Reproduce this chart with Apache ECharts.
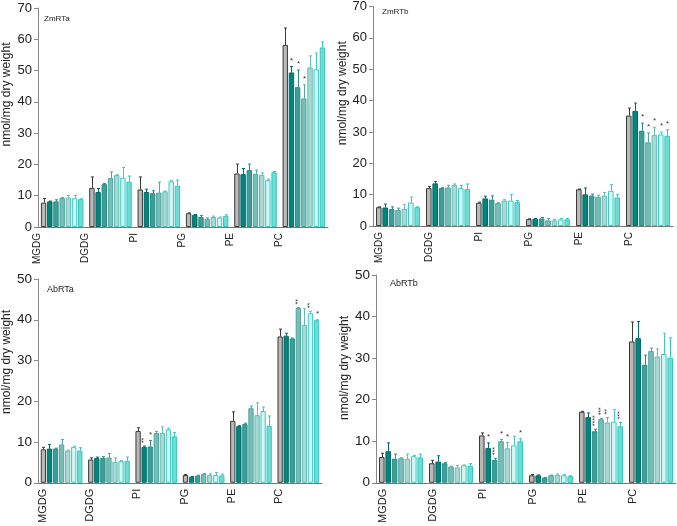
<!DOCTYPE html>
<html>
<head>
<meta charset="utf-8">
<script src="https://cdn.jsdelivr.net/npm/echarts@6/dist/echarts.min.js"></script>
<style>html,body{margin:0;padding:0;background:#fff}#c{width:677px;height:526px}</style>
</head>
<body>
<div id="c"></div>
<script>
const categories = ['MGDG', 'DGDG', 'PI', 'PG', 'PE', 'PC'];
const panelNames = ['ZmRTa', 'ZmRTb', 'AbRTa', 'AbRTb'];
const topTicks = [0, 10, 20, 30, 40, 50, 60, 70];
const bottomTicks = [0, 10, 20, 30, 40, 50];

// rows = 7 treatments, columns = categories
const zmRTaMean = [
  [7.8, 12.5, 12.0, 4.4, 17.1, 58.2],
  [8.2, 11.2, 11.2, 3.9, 16.9, 49.4],
  [8.2, 13.7, 10.8, 3.2, 18.2, 44.7],
  [9.3, 15.7, 11.0, 2.6, 17.0, 41.1],
  [9.4, 16.6, 11.4, 3.2, 16.7, 51.0],
  [9.2, 15.8, 14.6, 3.0, 15.0, 50.4],
  [8.9, 14.5, 13.2, 3.6, 17.5, 57.4]
];
const zmRTaErr = [
  [1.3, 3.5, 4.0, 0.1, 3.0, 5.4],
  [0.1, 1.1, 0.9, 0.1, 1.8, 1.9],
  [0.5, 0.2, 0.8, 0.5, 1.9, 5.5],
  [0.1, 1.9, 3.3, 0.3, 1.2, 4.3],
  [0.7, 0.1, 0.1, 0.3, 0.6, 3.7],
  [0.9, 3.2, 0.2, 0.2, 0.3, 5.2],
  [0.1, 1.8, 1.8, 0.3, 0.2, 1.7]
];
const zmRTaSig = [
  ['', '', '', '', '', ''],
  ['', '', '', '', '', '*'],
  ['', '', '', '', '', '*'],
  ['', '', '', '', '', '*'],
  ['', '', '', '', '', ''],
  ['', '', '', '', '', ''],
  ['', '', '', '', '', '']
];

const zmRTbMean = [
  [6.0, 12.1, 7.4, 2.2, 11.7, 35.2],
  [5.9, 13.6, 8.8, 2.3, 10.1, 36.7],
  [5.4, 12.1, 8.4, 2.4, 9.7, 30.4],
  [5.1, 12.3, 7.3, 1.8, 9.3, 26.7],
  [5.5, 13.1, 8.1, 1.8, 9.7, 29.0],
  [7.5, 12.1, 8.1, 2.1, 11.2, 29.2],
  [6.0, 11.8, 7.6, 2.1, 9.1, 28.8]
];
const zmRTbErr = [
  [0.1, 0.5, 0.2, 0.1, 0.1, 2.4],
  [1.1, 0.6, 0.7, 0.1, 2.0, 2.5],
  [0.7, 0.1, 1.2, 0.3, 0.5, 2.4],
  [0.6, 0.7, 0.1, 0.6, 0.5, 3.0],
  [1.4, 0.3, 0.3, 0.3, 1.0, 2.5],
  [1.7, 0.8, 1.9, 0.3, 2.0, 0.7],
  [0.1, 1.6, 0.5, 0.3, 0.9, 1.9]
];
const zmRTbSig = [
  ['', '', '', '', '', ''],
  ['', '', '', '', '', ''],
  ['', '', '', '', '', '*'],
  ['', '', '', '', '', '*'],
  ['', '', '', '', '', '*'],
  ['', '', '', '', '', '*'],
  ['', '', '', '', '', '*']
];

const abRTaMean = [
  [8.2, 5.7, 12.7, 1.9, 15.2, 35.9],
  [8.4, 6.1, 8.8, 1.5, 13.9, 36.1],
  [8.4, 6.1, 8.9, 1.75, 14.4, 35.4],
  [9.4, 6.2, 12.2, 2.2, 18.3, 42.9],
  [7.9, 5.1, 12.2, 1.9, 16.6, 38.7],
  [8.8, 5.3, 13.1, 1.9, 17.6, 41.6],
  [7.9, 5.4, 11.4, 1.8, 14.0, 39.9]
];
const abRTaErr = [
  [0.5, 0.4, 0.8, 0.1, 2.2, 1.8],
  [1.0, 0.2, 0.2, 0.05, 0.1, 0.6],
  [0.1, 0.3, 1.5, 0.1, 0.2, 0.1],
  [1.2, 1.0, 0.4, 0.1, 0.5, 0.1],
  [0.1, 1.0, 1.5, 0.3, 3.0, 4.0],
  [0.2, 0.1, 0.3, 0.6, 1.0, 0.5],
  [0.7, 0.9, 0.9, 0.3, 2.4, 0.1]
];
const abRTaSig = [
  ['', '', '', '', '', ''],
  ['', '', '**', '', '', ''],
  ['', '', '*', '', '', ''],
  ['', '', '', '', '', '**'],
  ['', '', '', '', '', ''],
  ['', '', '', '', '', '**'],
  ['', '', '', '', '', '*']
];

const abRTbMean = [
  [6.2, 4.7, 11.4, 1.8, 17.1, 34.0],
  [7.6, 5.1, 8.4, 1.8, 15.8, 34.8],
  [5.8, 4.7, 5.5, 1.25, 12.4, 28.4],
  [5.9, 3.9, 10.0, 1.8, 15.3, 31.7],
  [5.8, 3.7, 8.3, 1.9, 14.5, 30.4],
  [6.4, 4.2, 9.0, 1.8, 14.7, 31.0],
  [6.1, 4.1, 10.0, 1.6, 13.6, 30.1]
];
const abRTbErr = [
  [0.9, 0.7, 0.6, 0.2, 0.1, 4.7],
  [2.0, 1.4, 1.2, 0.1, 1.0, 4.0],
  [1.1, 0.2, 0.4, 0.05, 0.5, 2.3],
  [0.1, 0.1, 0.4, 0.05, 0.2, 0.7],
  [1.1, 0.5, 1.4, 0.2, 1.2, 1.8],
  [0.2, 0.1, 2.2, 0.2, 2.9, 5.0],
  [0.8, 0.5, 0.6, 0.1, 0.9, 4.8]
];
const abRTbSig = [
  ['', '', '', '', '', ''],
  ['', '', '*', '', '', ''],
  ['', '', '***', '', '****', ''],
  ['', '', '*', '', '***', ''],
  ['', '', '*', '', '**', ''],
  ['', '', '', '', '', ''],
  ['', '', '*', '', '***', '']
];

const fills = ['#b9b9b9', '#00857f', '#3b9f99', '#78bdb8', '#a9d9d4', '#d2f6f3', '#6edcd5'];
const borders = ['#3a3a3a', '#006b66', '#2b8a84', '#4fa6a0', '#66bab4', '#3fcac2', '#33c8bf'];

const panels = [
  {mean: zmRTaMean, err: zmRTaErr, sig: zmRTaSig, ticks: topTicks,
   grid: {left: 36, top: 8, width: 292, height: 219}, labelShift: 25, tickFont: 13, catFont: 10,
   nameShift: 46, nameGap: 25, titleFont: 8, title: {left: 39, top: 10}},
  {mean: zmRTbMean, err: zmRTbErr, sig: zmRTbSig, ticks: topTicks,
   grid: {left: 373, top: 5, width: 300, height: 221}, labelShift: 19, tickFont: 13, catFont: 10,
   nameShift: 46, nameGap: 19, titleFont: 8, title: {left: 377, top: 3}},
  {mean: abRTaMean, err: abRTaErr, sig: abRTaSig, ticks: bottomTicks,
   grid: {left: 35, top: 279, width: 287, height: 210}, labelShift: 19, tickFont: 13.5, catFont: 11,
   nameShift: 38, nameGap: 23, titleFont: 9, title: {left: 42, top: 280}},
  {mean: abRTbMean, err: abRTbErr, sig: abRTbSig, ticks: bottomTicks,
   grid: {left: 376, top: 275, width: 300, height: 214}, labelShift: 18, tickFont: 13.5, catFont: 11,
   nameShift: 22, nameGap: 20, titleFont: 9, title: {left: 385, top: 274}}
];

const CAT_GAP = 0.12, BAR_GAP = 0.15, N = 7;
const FONT = 'Liberation Sans, Arial, sans-serif';

const option = {
  animation: false,
  textStyle: {fontFamily: FONT},
  title: [], grid: [], xAxis: [], yAxis: [], series: []
};

panels.forEach((p, pi) => {
  option.grid.push(Object.assign({containLabel: false}, p.grid));
  option.title.push({text: panelNames[pi], left: p.title.left, top: p.title.top,
    textStyle: {fontSize: p.titleFont, fontWeight: 'normal', color: '#222', fontFamily: FONT}});
  option.xAxis.push({
    type: 'category', gridIndex: pi, data: categories,
    axisTick: {show: false},
    axisLine: {lineStyle: {color: '#777', width: 1}},
    axisLabel: {rotate: 90, fontSize: p.catFont, color: '#222', margin: 6,
      align: 'right', verticalAlign: 'bottom', lineHeight: p.labelShift * 2, interval: 0}
  });
  option.yAxis.push({
    type: 'value', gridIndex: pi, min: 0, max: p.ticks[p.ticks.length - 1], interval: 10,
    name: 'nmol/mg dry weight', nameLocation: 'middle', nameGap: p.nameGap, nameRotate: 90,
    nameTextStyle: {fontSize: 12, color: '#222', padding: [0, 0, 0, p.nameShift]},
    splitLine: {show: false},
    axisLine: {show: true, lineStyle: {color: '#888', width: 1}},
    axisTick: {show: true, length: 4, lineStyle: {color: '#888'}},
    axisLabel: {fontSize: p.tickFont, color: '#222', margin: 6}
  });
  for (let s = 0; s < N; s++) {
    option.series.push({
      type: 'bar', xAxisIndex: pi, yAxisIndex: pi, name: 'T' + (s + 1),
      data: p.mean[s],
      barCategoryGap: (CAT_GAP * 100) + '%', barGap: (BAR_GAP * 100) + '%',
      itemStyle: {color: fills[s], borderColor: borders[s], borderWidth: 1}
    });
  }
  const errData = [];
  for (let s = 0; s < N; s++) {
    for (let c = 0; c < categories.length; c++) {
      errData.push([c, p.mean[s][c], p.err[s][c], s]);
    }
  }
  option.series.push({
    type: 'custom', xAxisIndex: pi, yAxisIndex: pi, z: 5,
    data: errData,
    renderItem: function (params, api) {
      const c = api.value(0), m = api.value(1), e = api.value(2), s = api.value(3);
      const band = api.size([1, 0])[0];
      const groupW = band * (1 - CAT_GAP);
      const bw = groupW / (N + (N - 1) * BAR_GAP);
      const off = -groupW / 2 + bw / 2 + s * bw * (1 + BAR_GAP);
      const base = api.coord([c, m]);
      const top = api.coord([c, m + e]);
      const x = Math.round(base[0] + off) + 0.5;
      const color = borders[s];
      const children = [
        {type: 'line', shape: {x1: x, y1: base[1], x2: x, y2: top[1]}, style: {stroke: color, lineWidth: 1}},
        {type: 'line', shape: {x1: x - 1.5, y1: top[1], x2: x + 1.5, y2: top[1]}, style: {stroke: color, lineWidth: 1}}
      ];
      const sig = p.sig[s][c];
      if (sig) {
        if (sig.length > 1) {
          children.push({type: 'text', x: x, y: top[1] - 3, rotation: Math.PI / 2,
            style: {text: sig, fontSize: 7, fill: '#333', align: 'left', verticalAlign: 'middle', fontFamily: FONT}});
        } else {
          children.push({type: 'text', x: x, y: top[1] - 2,
            style: {text: sig, fontSize: 8, fill: '#333', align: 'center', verticalAlign: 'bottom', fontFamily: FONT}});
        }
      }
      return {type: 'group', children: children};
    }
  });
});

const chart = echarts.init(document.getElementById('c'), null, {renderer: 'canvas'});
chart.setOption(option);
</script>
</body>
</html>
